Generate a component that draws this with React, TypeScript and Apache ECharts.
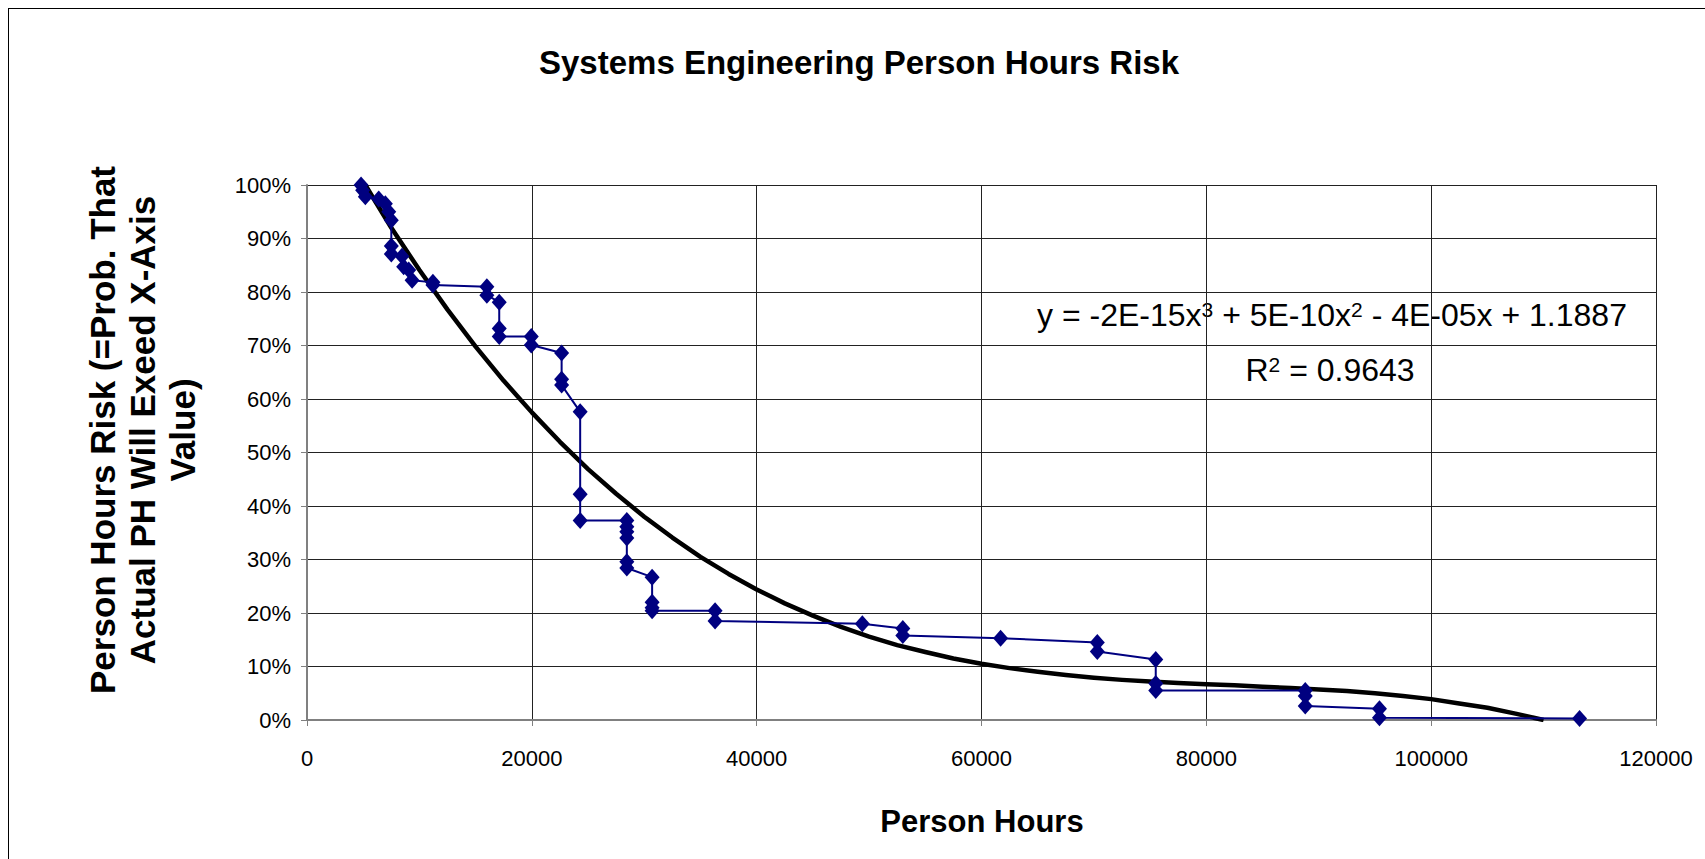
import React, { useEffect, useRef } from "react";
import * as echarts from "echarts";

// Observed risk points (person hours vs probability of exceeding)
const riskHours = [
  4810, 4950, 5190, 6380, 6970, 7270, 7500, 7500, 7500, 8450, 8600, 9050, 9350,
  11200, 11200, 16000, 16000, 17100, 17100, 17100, 19950, 19950, 22650, 22650,
  22650, 24300, 24300, 24300, 28450, 28450, 28450, 28450, 28450, 28450, 30700,
  30700, 30700, 30700, 36300, 36300, 49400, 53000, 53000, 61700, 70300, 70300,
  75500, 75500, 75500, 88800, 88800, 88800, 95400, 95400, 113200,
];
const riskProb = [
  1.0, 0.99, 0.978, 0.974, 0.965, 0.95, 0.934, 0.886, 0.871, 0.867, 0.847, 0.841,
  0.822, 0.818, 0.813, 0.81, 0.794, 0.781, 0.732, 0.717, 0.717, 0.701, 0.686,
  0.637, 0.626, 0.576, 0.422, 0.373, 0.373, 0.361, 0.352, 0.34, 0.296, 0.284,
  0.267, 0.22, 0.21, 0.204, 0.204, 0.185, 0.18, 0.171, 0.158, 0.153, 0.145,
  0.128, 0.113, 0.068, 0.055, 0.055, 0.045, 0.026, 0.021, 0.004, 0.003,
];

// Trend line
const trendHours = [
  5190, 7500, 10000, 12500, 15000, 17500, 20000, 22500, 25000, 27500, 30000,
  32500, 35000, 37500, 40000, 42500, 45000, 47500, 50000, 52500, 55000, 57500,
  60000, 62500, 65000, 67500, 70000, 72500, 75000, 77500, 80000, 82500, 85000,
  87500, 90000, 92500, 95000, 97500, 100000, 102500, 105000, 107500, 110000,
];
const trendProb = [
  1.0, 0.92, 0.841, 0.767, 0.698, 0.634, 0.575, 0.52, 0.469, 0.423, 0.38,
  0.341, 0.305, 0.273, 0.244, 0.218, 0.195, 0.174, 0.156, 0.14, 0.127, 0.115,
  0.105, 0.097, 0.09, 0.084, 0.079, 0.075, 0.072, 0.069, 0.067, 0.065, 0.062,
  0.06, 0.057, 0.054, 0.05, 0.045, 0.039, 0.031, 0.023, 0.012, 0.0,
];

const titleText = "Systems Engineering Person Hours Risk";
const xTitle = "Person Hours";
const yTitleLines = [
  "Person Hours Risk (=Prob. That",
  "Actual PH Will Exeed X-Axis",
  "Value)",
];
const equationText = "y = -2E-15x{sup|3} + 5E-10x{sup|2} - 4E-05x + 1.1887";
const r2Text = "R{sup|2} = 0.9643";

const FONT = '"Liberation Sans", Arial, Helvetica, sans-serif';
const W = 1697;
const H = 851;

export default function App() {
  const ref = useRef<HTMLDivElement>(null);

  useEffect(() => {
    if (!ref.current) return;
    const chart = echarts.init(ref.current, undefined, { renderer: "svg" });

    const riskData = riskHours.map((h, i) => [h, riskProb[i]]);
    const trendData = trendHours.map((h, i) => [h, trendProb[i]]);

    chart.setOption({
      animation: false,
      backgroundColor: "#ffffff",
      grid: { left: 299, top: 177, width: 1349, height: 535, containLabel: false },
      xAxis: {
        type: "value",
        min: 0,
        max: 120000,
        interval: 20000,
        axisLine: { show: true, onZero: false, lineStyle: { color: "#808080", width: 2 } },
        axisTick: { show: true, inside: false, length: 6, lineStyle: { color: "#808080", width: 1 } },
        axisLabel: {
          margin: 27,
          fontSize: 22,
          fontFamily: FONT,
          color: "#000",
          formatter: (v: number) => String(v),
        },
        splitLine: { show: true, lineStyle: { color: "#222", width: 1 } },
      },
      yAxis: {
        type: "value",
        min: 0,
        max: 1,
        interval: 0.1,
        axisLine: { show: true, onZero: false, lineStyle: { color: "#808080", width: 2 } },
        axisTick: { show: true, inside: false, length: 6, lineStyle: { color: "#808080", width: 1 } },
        axisLabel: {
          margin: 16,
          fontSize: 22,
          fontFamily: FONT,
          color: "#000",
          formatter: (v: number) => Math.round(v * 100) + "%",
        },
        splitLine: { show: true, lineStyle: { color: "#222", width: 1 } },
      },
      series: [
        {
          name: "Trend",
          type: "line",
          data: trendData,
          smooth: false,
          showSymbol: false,
          symbol: "none",
          lineStyle: { color: "#000", width: 4.5, join: "round" },
          z: 2,
        },
        {
          name: "Risk",
          type: "line",
          data: riskData,
          symbol: "diamond",
          symbolSize: [15, 17],
          itemStyle: { color: "#000080" },
          lineStyle: { color: "#000080", width: 2 },
          z: 3,
        },
      ],
      graphic: [
        {
          type: "line",
          shape: { x1: 0.5, y1: 0, x2: 0.5, y2: H },
          style: { stroke: "#000", lineWidth: 1 },
        },
        {
          type: "line",
          shape: { x1: 0, y1: 0.5, x2: W, y2: 0.5 },
          style: { stroke: "#000", lineWidth: 1 },
        },
        {
          type: "text",
          x: 851,
          y: 54,
          style: {
            text: titleText,
            fontSize: 33,
            fontWeight: "bold",
            fontFamily: FONT,
            fill: "#000",
            align: "center",
            verticalAlign: "middle",
          },
        },
        {
          type: "text",
          x: 974,
          y: 813,
          style: {
            text: xTitle,
            fontSize: 31,
            fontWeight: "bold",
            fontFamily: FONT,
            fill: "#000",
            align: "center",
            verticalAlign: "middle",
          },
        },
        {
          type: "text",
          x: 134,
          y: 422,
          rotation: Math.PI / 2,
          style: {
            text: yTitleLines.join("\n"),
            fontSize: 35,
            lineHeight: 40,
            fontWeight: "bold",
            fontFamily: FONT,
            fill: "#000",
            align: "center",
            verticalAlign: "middle",
          },
        },
        {
          type: "text",
          x: 1324,
          y: 307,
          style: {
            text: equationText,
            fontSize: 32,
            fontFamily: FONT,
            fill: "#000",
            align: "center",
            verticalAlign: "middle",
            rich: {
              sup: { fontSize: 21, fontFamily: FONT, verticalAlign: "top", fill: "#000" },
            },
          },
        },
        {
          type: "text",
          x: 1322,
          y: 362,
          style: {
            text: r2Text,
            fontSize: 32,
            fontFamily: FONT,
            fill: "#000",
            align: "center",
            verticalAlign: "middle",
            rich: {
              sup: { fontSize: 21, fontFamily: FONT, verticalAlign: "top", fill: "#000" },
            },
          },
        },
      ],
    });

    return () => {
      chart.dispose();
    };
  }, []);

  return (
    <div
      ref={ref}
      style={{ position: "fixed", left: "8px", top: "8px", width: W + "px", height: H + "px" }}
    />
  );
}
